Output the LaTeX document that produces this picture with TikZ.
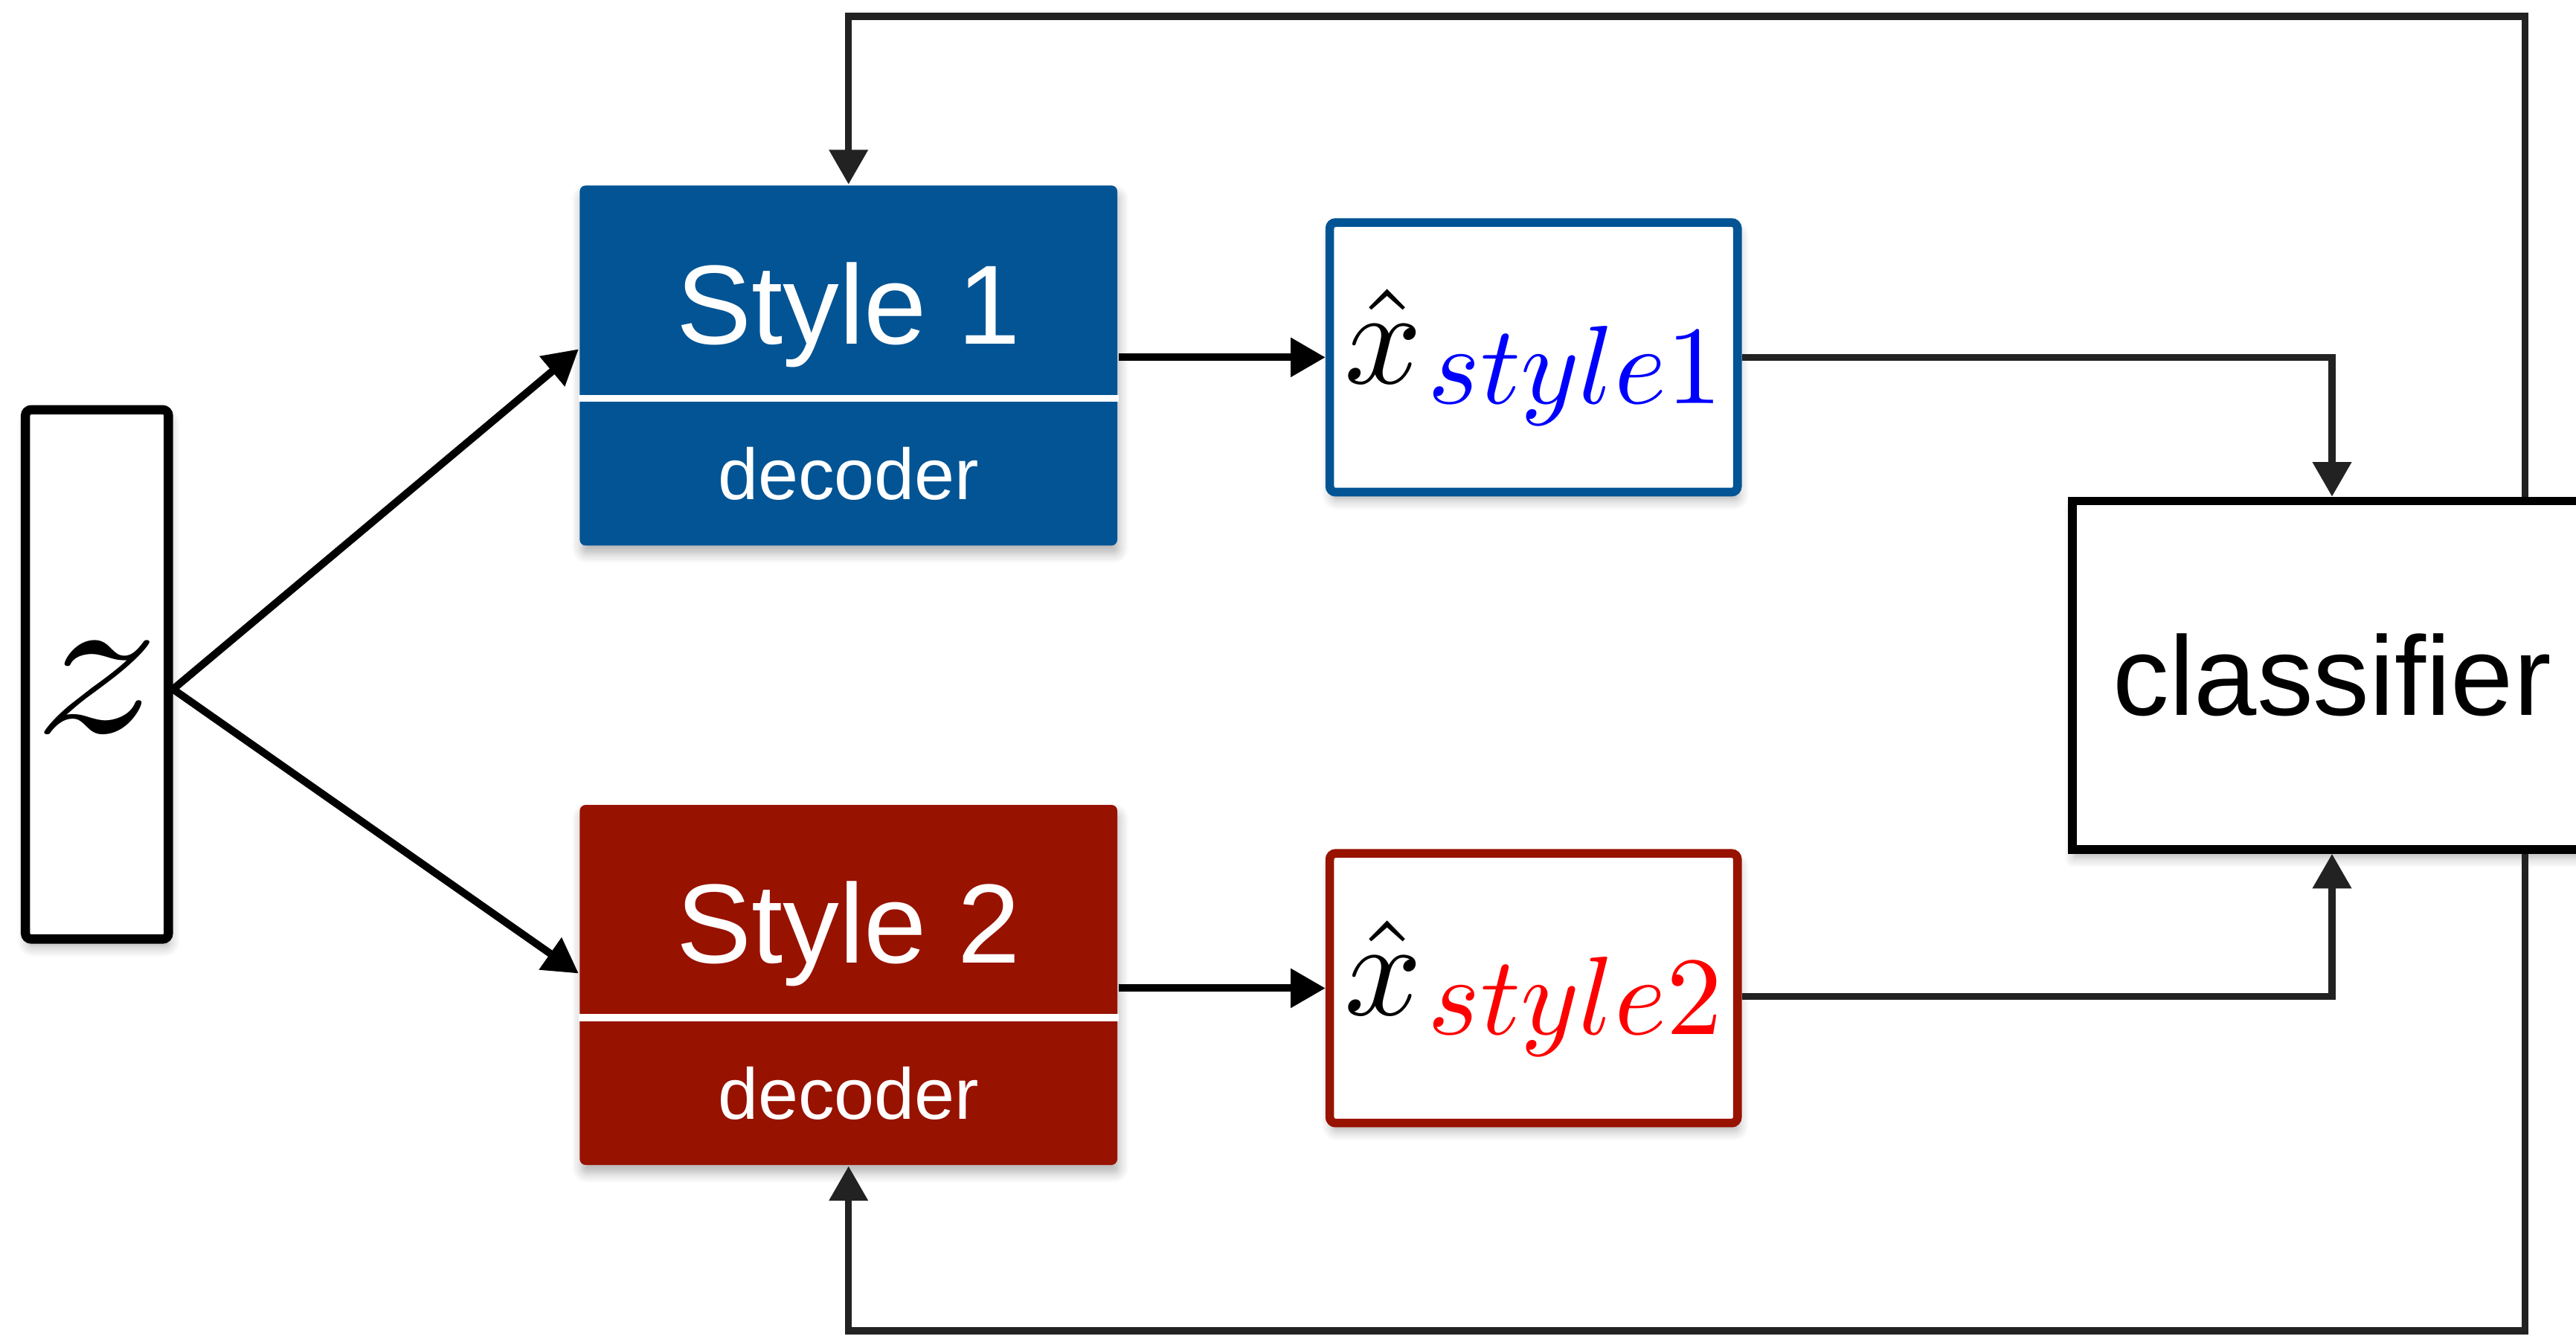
\RequirePackage{fix-cm}
\documentclass[tikz,border=0pt]{standalone}
\usepackage{graphicx}
\usepackage[no-math]{fontspec}
\newfontfamily\helv{Liberation Sans}
\usepackage{tikz}
\usetikzlibrary{calc}
\usetikzlibrary{arrows.meta}
\usetikzlibrary{positioning}
\usetikzlibrary{shadows.blur}
\definecolor{styleblue}{RGB}{2,84,148}
\definecolor{stylered}{RGB}{152,18,0}
\definecolor{fbgray}{RGB}{34,34,34}
\newcommand{\xhatlbl}[2]{\scalebox{2.35}{$\hat{x}$}\hspace{1pt}\raisebox{-3.4pt}{\scalebox{1.93}{$\color{#1}#2$}}}
\tikzset{boxshadow/.style={blur shadow={shadow xshift=0.3pt,shadow yshift=-1.4pt,shadow blur steps=6,shadow opacity=30}}}
\tikzset{decbox/.style={rectangle,rounded corners=1pt,minimum width=3.27cm,minimum height=2.19cm,inner sep=0pt,boxshadow}}
\tikzset{outbox/.style={rectangle,rounded corners=1pt,draw=#1,line width=1.5pt,fill=white,minimum width=2.48cm,minimum height=1.64cm,inner sep=0pt,boxshadow}}
\tikzset{headtxt/.style={text=white,font=\helv\fontsize{19.5}{22}\selectfont,inner sep=0pt,anchor=base}}
\tikzset{subtxt/.style={text=white,font=\helv\fontsize{12.5}{15}\selectfont,inner sep=0pt,anchor=base}}
\tikzset{sepline/.style={draw=white,line width=1.2pt}}
\tikzset{conn/.style={draw=black,line width=1.3pt,-{Triangle[length=6pt,width=6.5pt]}}}
\tikzset{fbline/.style={draw=fbgray,line width=1.2pt,-{Triangle[length=6pt,width=6.5pt]}}}

\begin{document}
\begin{tikzpicture}[x=0.01cm,y=-0.01cm]
\useasboundingbox (0,0) rectangle (1568,815);
\clip (0,0) rectangle (1568,815);

\node (zin) at (59,410.5) [rectangle,rounded corners=1pt,draw=black,line width=1.6pt,fill=white,minimum width=0.87cm,minimum height=3.22cm,inner sep=0pt,boxshadow] {};
\node (zlbl) at ($ (zin.center)+(0,8) $) [inner sep=0pt] {\scalebox{4.3}[3.6]{$z$}};

\foreach \k / \c / \y in {1/styleblue/222.5, 2/stylered/599.5}
{
	\node (sty\k) at (516.5,\y) [decbox,fill=\c] {};
	\node (hd\k) at ($ (sty\k.north)+(0,97) $) [headtxt] {Style \k};
	\node (dec\k) at ($ (sty\k.north)+(0,192) $) [subtxt] {decoder};
	\draw[sepline] ($ (sty\k.north west)!0.59!(sty\k.south west) $) -- ($ (sty\k.north east)!0.59!(sty\k.south east) $);
}

\node (xh1) at (933.5,217.5) [outbox=styleblue] {\xhatlbl{blue}{style1}};
\node (xh2) at (933.5,601.5) [outbox=stylered] {\xhatlbl{red}{style2}};

\node (cls) at (1419.5,411) [rectangle,draw=black,line width=1.5pt,fill=white,minimum width=3.16cm,minimum height=2.12cm,inner sep=0pt,boxshadow,font=\helv\fontsize{19.5}{22}\selectfont] {classifier};

\coordinate (topfb) at (1537,10);
\coordinate (botfb) at (1537,810);

% z to both decoders
\draw[conn] ($ (zin.east)+(0,9) $) -- ($ (sty1.west)+(0,-10) $);
\draw[conn] ($ (zin.east)+(0,9) $) -- ($ (sty2.west)+(0,-7) $);
% decoders to outputs
\draw[conn] (sty1.east |- xh1.west) -- (xh1.west);
\draw[conn] (sty2.east |- xh2.west) -- (xh2.west);
% outputs to classifier
\draw[fbline] (xh1.east) -| (cls.north);
\draw[fbline] ($ (xh2.east)+(0,5) $) -| (cls.south);
% feedback
\draw[fbline] (cls.north -| topfb) |- (sty1.north |- topfb) -- (sty1.north);
\draw[fbline] (cls.south -| botfb) |- (sty2.south |- botfb) -- (sty2.south);
\end{tikzpicture}
\end{document}
